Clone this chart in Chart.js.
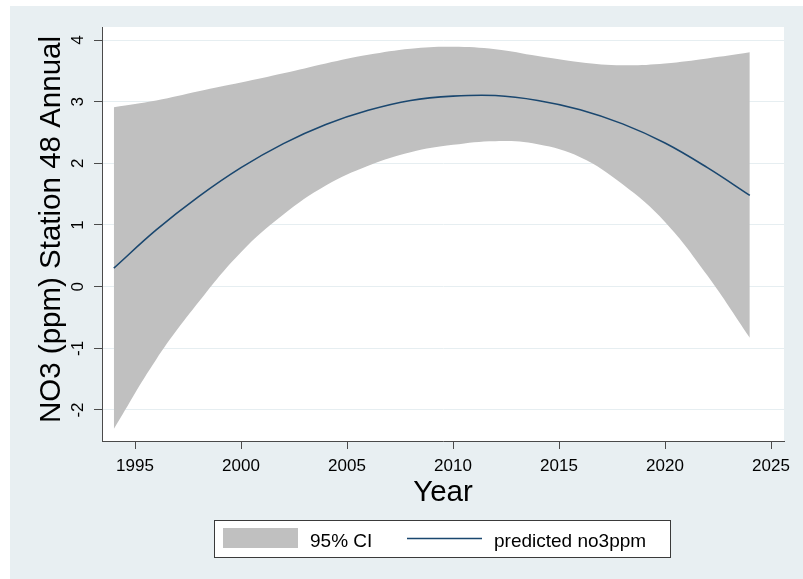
<!DOCTYPE html>
<html>
<head>
<meta charset="utf-8">
<script src="https://cdn.jsdelivr.net/npm/chart.js@4"></script>
<style>
  html, body { margin: 0; padding: 0; background: #ffffff; }
  canvas { display: block; }
</style>
</head>
<body>
<canvas id="chart" width="803" height="579"></canvas>
<script>
// quadratic fit with 95% CI, every two years
const years     = [1994, 1996, 1998, 2000, 2002, 2004, 2006, 2008, 2010, 2012, 2014, 2016, 2018, 2020, 2022, 2024]
const predicted = [0.30, 0.92, 1.46, 1.93, 2.32, 2.63, 2.86, 3.02, 3.09, 3.10, 3.02, 2.87, 2.64, 2.33, 1.93, 1.48]
const ciUpper   = [2.91, 3.02, 3.17, 3.31, 3.46, 3.62, 3.76, 3.86, 3.89, 3.85, 3.74, 3.64, 3.59, 3.62, 3.70, 3.80]
const ciLower   = [-2.31, -1.18, -0.25, 0.56, 1.17, 1.64, 1.96, 2.18, 2.30, 2.36, 2.31, 2.10, 1.66, 1.05, 0.18, -0.83]

const xTicks = [1995, 2000, 2005, 2010, 2015, 2020, 2025]
const yTicks = [-2, -1, 0, 1, 2, 3, 4]

const xTitle = 'Year'
const yTitle = 'NO3 (ppm) Station 48 Annual'
const ciLabel = '95% CI'
const lineLabel = 'predicted no3ppm'

const FONT = '"Liberation Sans", Arial, Helvetica, sans-serif'
const BAND = '#c0c0c0'
const NAVY = '#1a476f'
const OUTER = '#e8eff2'
const AXIS = '#4a4a4a'

const pts = (vals) => years.map((yr, i) => ({ x: yr, y: vals[i] }))

// backgrounds, rotated y labels, titles and the boxed legend
const stataFrame = {
  id: 'stataFrame',
  beforeDraw(chart) {
    const { ctx, chartArea: a } = chart
    ctx.save()
    ctx.fillStyle = '#ffffff'
    ctx.fillRect(0, 0, chart.width, chart.height)
    ctx.fillStyle = OUTER
    ctx.fillRect(10, 6, chart.width - 10, chart.height - 6)
    ctx.fillStyle = '#ffffff'
    ctx.fillRect(a.left, a.top, a.right - a.left, a.bottom - a.top)
    ctx.restore()
  },
  afterDraw(chart) {
    const { ctx, chartArea: a } = chart
    const ys = chart.scales.y
    ctx.save()
    ctx.fillStyle = '#000000'

    // y tick labels, turned like Stata does
    ctx.font = '17px ' + FONT
    ctx.textAlign = 'center'
    ctx.textBaseline = 'alphabetic'
    yTicks.forEach(v => {
      ctx.save()
      ctx.translate(83, ys.getPixelForValue(v))
      ctx.rotate(-Math.PI / 2)
      ctx.fillText(String(v), 0, 0)
      ctx.restore()
    })

    // axis titles
    ctx.font = '29.5px ' + FONT
    ctx.save()
    ctx.translate(60, 229.5)
    ctx.rotate(-Math.PI / 2)
    ctx.fillText(yTitle, 0, 0)
    ctx.restore()
    ctx.fillText(xTitle, (a.left + a.right) / 2, 501)

    // legend box
    const band = chart.data.datasets[1]
    const line = chart.data.datasets[0]
    ctx.fillStyle = '#ffffff'
    ctx.fillRect(214, 520, 456, 37)
    ctx.strokeStyle = '#3a3a3a'
    ctx.lineWidth = 1
    ctx.strokeRect(214.5, 520.5, 456, 37)

    ctx.fillStyle = band.backgroundColor
    ctx.fillRect(223, 528, 75, 20)
    ctx.strokeStyle = line.borderColor
    ctx.lineWidth = 1.6
    ctx.beginPath()
    ctx.moveTo(407, 538.5)
    ctx.lineTo(482, 538.5)
    ctx.stroke()

    ctx.fillStyle = '#000000'
    ctx.font = '19px ' + FONT
    ctx.textAlign = 'left'
    ctx.fillText(band.label, 310, 547)
    ctx.fillText(line.label, 494, 547)
    ctx.restore()
  }
}

new Chart(document.getElementById('chart'), {
  type: 'line',
  data: {
    datasets: [
      {
        label: lineLabel,
        data: pts(predicted),
        borderColor: NAVY,
        borderWidth: 1.6,
        pointRadius: 0,
        fill: false,
        tension: 0.4
      },
      {
        label: ciLabel,
        data: pts(ciUpper),
        borderColor: 'rgba(0,0,0,0)',
        backgroundColor: BAND,
        pointRadius: 0,
        fill: '+1',
        tension: 0.4
      },
      {
        label: 'ci lower',
        data: pts(ciLower),
        borderColor: 'rgba(0,0,0,0)',
        pointRadius: 0,
        fill: false,
        tension: 0.4
      }
    ]
  },
  options: {
    responsive: false,
    animation: false,
    layout: { padding: { left: 0, top: 27, right: 19, bottom: 0 } },
    plugins: {
      legend: { display: false },
      tooltip: { enabled: false }
    },
    scales: {
      x: {
        type: 'linear',
        min: 1993.443,
        max: 2025.613,
        afterBuildTicks: (s) => { s.ticks = xTicks.map(v => ({ value: v })) },
        afterFit: (s) => { s.height = 138 },
        border: { display: true, color: AXIS, width: 1 },
        grid: { drawOnChartArea: false, drawTicks: true, tickLength: 8, tickColor: AXIS },
        ticks: {
          padding: 7,
          color: '#000000',
          font: { family: FONT, size: 17 },
          maxRotation: 0,
          autoSkip: false,
          callback: (v) => String(v)
        }
      },
      y: {
        type: 'linear',
        min: -2.503,
        max: 4.211,
        afterBuildTicks: (s) => { s.ticks = yTicks.map(v => ({ value: v })) },
        afterFit: (s) => { s.width = 102 },
        border: { display: true, color: AXIS, width: 1 },
        grid: { color: '#e6eef1', lineWidth: 1, drawTicks: true, tickLength: 8, tickColor: AXIS },
        ticks: { display: false }
      }
    }
  },
  plugins: [stataFrame]
})
</script>
</body>
</html>
